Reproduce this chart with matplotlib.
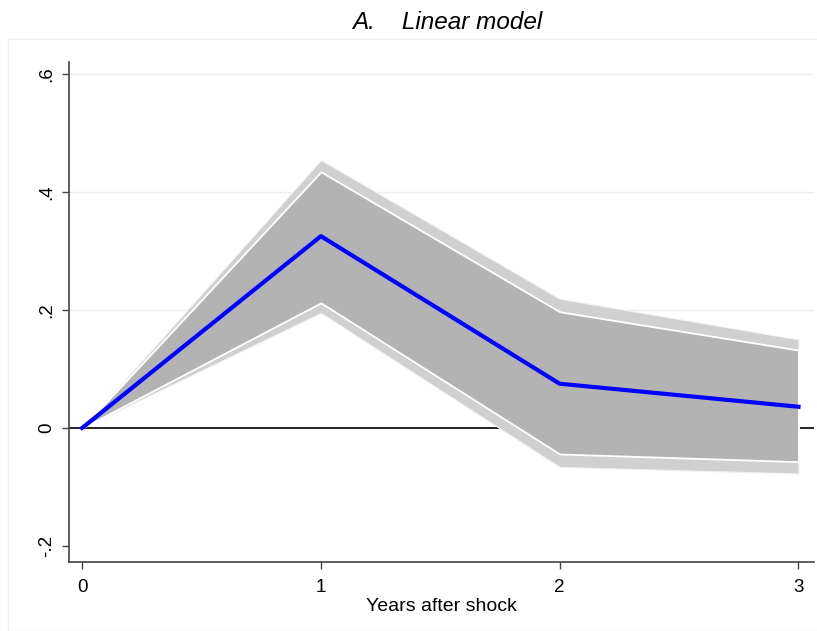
import matplotlib.pyplot as plt
from matplotlib.patches import Rectangle

plt.rcParams['font.family'] = ['Liberation Sans', 'DejaVu Sans']

# impulse response and confidence bands
years = [0, 1, 2, 3]
irf = [0, 0.325, 0.075, 0.036]
inner_lo = [0, 0.212, -0.044, -0.057]
inner_hi = [0, 0.434, 0.197, 0.132]
outer_lo = [0, 0.195, -0.066, -0.077]
outer_hi = [0, 0.454, 0.219, 0.150]

yticks = [-0.2, 0, 0.2, 0.4, 0.6]
ytick_labels = ['-.2', '0', '.2', '.4', '.6']

fig = plt.figure(figsize=(8.17, 6.31), dpi=100)

# faint outline of the plot region
fig.patches.append(Rectangle((8 / 817, 0), 1, 1 - 39 / 631, transform=fig.transFigure,
                             fill=False, edgecolor='#eef2f4', linewidth=1))

ax = fig.add_axes([69 / 817, 1 - 562 / 631, (814 - 69) / 817, (562 - 62) / 631])

for y in [0.2, 0.4, 0.6]:
    ax.axhline(y, color='#eaf0f2', linewidth=1, zorder=0)
ax.axhline(0, color='black', linewidth=1.2, zorder=1)

ax.fill_between(years, outer_lo, outer_hi, facecolor='#d0d0d0', edgecolor='#f2f2f2',
                linewidth=0.8, zorder=2)
ax.fill_between(years, inner_lo, inner_hi, facecolor='#b3b3b3', edgecolor='white',
                linewidth=1.3, zorder=3)
ax.plot(years, irf, color='#0000ff', linewidth=3, zorder=4)

ax.set_xlim(-0.055, 3.065)
ax.set_ylim(-0.227, 0.62)
ax.set_xticks(years)
ax.set_yticks(yticks)
ax.set_yticklabels(ytick_labels)
ax.tick_params(axis='both', labelsize=13.5, length=5, width=1, color='#444444')
ax.tick_params(axis='x', pad=7)
ax.tick_params(axis='y', pad=5, labelrotation=90)
for lbl in ax.get_yticklabels():
    lbl.set_va('center')

for side in ['top', 'right']:
    ax.spines[side].set_visible(False)
for side in ['left', 'bottom']:
    ax.spines[side].set_color('#444444')
    ax.spines[side].set_linewidth(1.2)

ax.set_xlabel('Years after shock', fontsize=14, labelpad=2)
fig.text(0.547, 0.965, 'A.    Linear model', ha='center', va='center',
         fontsize=17.5, style='italic')

fig.savefig('out.png', dpi=100)
